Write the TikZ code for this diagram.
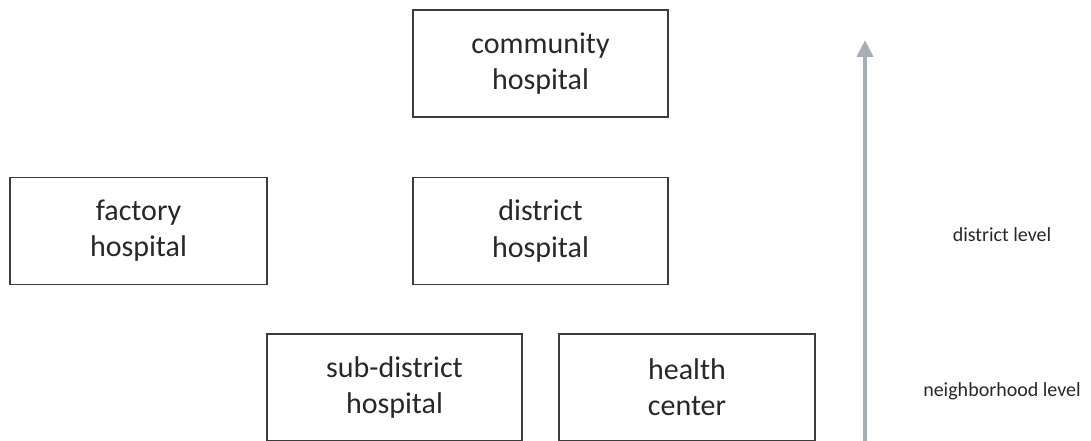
\documentclass[tikz,border=0pt]{standalone}
\usepackage{fontspec}
\setmainfont{Carlito}
\usetikzlibrary{arrows.meta}
\definecolor{boxline}{RGB}{60,60,60}
\definecolor{inktext}{RGB}{40,40,40}
\definecolor{axisgray}{RGB}{168,174,182}
\begin{document}
\begin{tikzpicture}[x=1pt,y=-1pt,
  careunit/.style={draw=boxline, line width=1.5pt, fill=white,
    minimum width=255pt, minimum height=107pt, inner sep=0pt,
    align=center, text=inktext, font=\fontsize{30}{36}\selectfont},
  levellabel/.style={text=inktext, inner sep=0pt, font=\fontsize{20}{24}\selectfont}]
  \useasboundingbox (0,0) rectangle (1091,441);
  \clip (0,0) rectangle (1091,441);

  % hospitals and centres
  \node[careunit] (community) at (540.5,63.5) {community\\hospital};
  \node[careunit, minimum width=257pt] (factory) at (138.5,231) {factory\\hospital};
  \node[careunit] (district) at (540.5,231) {district\\hospital};
  \node[careunit] (subdistrict) at (394.5,387.5) {sub-district\\hospital};
  \node[careunit, minimum width=256pt] (health) at (687,387.5) {health\\center};

  % level axis
  \coordinate (axisbottom) at (865,445);
  \coordinate (axistop) at (865,40);
  \draw[axisgray, line width=4pt,
    -{Triangle[width=16pt,length=17pt]}] (axisbottom) -- (axistop);

  \node[levellabel] (districtlevel) at (1002,235) {district level};
  \node[levellabel] (neighborhoodlevel) at (1002,391) {neighborhood level};
\end{tikzpicture}
\end{document}
